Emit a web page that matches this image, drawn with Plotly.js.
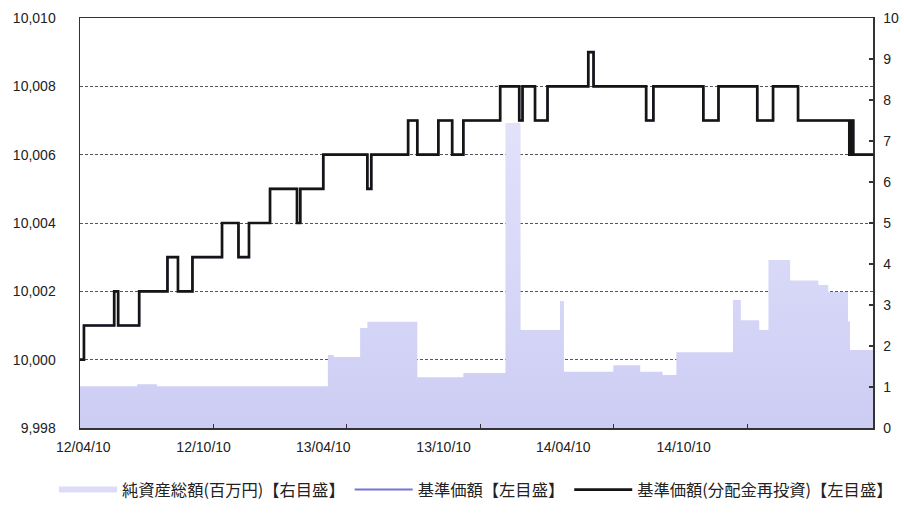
<!DOCTYPE html>
<html>
<head>
<meta charset="utf-8">
<script src="https://cdn.plot.ly/plotly-3.0.1.min.js"></script>
<style>html,body{margin:0;padding:0;background:#fff;}#chart{width:904px;height:513px;}</style>
</head>
<body>
<div id="chart"></div>
<script>
// 基準価額（分配金再投資）: step dates and values (left axis)
const navDates = ['2012-04-05','2012-04-11','2012-05-27','2012-06-02','2012-07-04','2012-08-16','2012-09-01','2012-09-23',
  '2012-11-07','2012-12-02','2012-12-18','2013-01-19','2013-03-01','2013-03-06','2013-04-10','2013-06-16','2013-06-22',
  '2013-08-17','2013-08-31','2013-10-02','2013-10-23','2013-11-09','2014-01-04','2014-02-02','2014-02-07','2014-02-26',
  '2014-03-17','2014-05-18','2014-05-26','2014-08-14','2014-08-25','2014-11-09','2014-12-02','2015-01-30','2015-02-23',
  '2015-04-02','2015-06-19','2015-06-21','2015-06-22','2015-06-24','2015-06-25','2015-07-25'];
const navValues = [10000,10001,10002,10001,10002,10003,10002,10003,
  10004,10003,10004,10005,10004,10005,10006,10005,10006,
  10007,10006,10007,10006,10007,10008,10007,10008,10007,
  10008,10009,10008,10007,10008,10007,10008,10007,10008,
  10007,10006,10007,10006,10007,10006,10006];
// 基準価額 (same as reinvested, no distributions)
const priceValues = navValues.slice();

// 純資産総額（百万円）: right axis
const assetDates = ['2012-04-05','2012-07-01','2012-07-31','2013-04-17','2013-04-26','2013-06-05','2013-06-16','2013-08-31',
  '2013-11-09','2014-01-12','2014-02-04','2014-04-05','2014-04-11','2014-06-25','2014-08-05','2014-09-08','2014-09-29',
  '2014-12-24','2015-01-05','2015-02-02','2015-02-16','2015-03-21','2015-05-03','2015-05-18','2015-06-17','2015-06-20','2015-07-25'];
const assetValues = [1.02,1.07,1.02,1.78,1.73,2.44,2.59,1.24,
  1.34,7.44,2.39,3.1,1.37,1.53,1.37,1.29,1.85,
  3.12,2.63,2.39,4.1,3.6,3.49,3.32,2.6,1.9,1.9];

const xTickDates = ['2012-04-10','2012-10-10','2013-04-10','2013-10-10','2014-04-10','2014-10-10'];
const xTickLabels = ['12/04/10','12/10/10','13/04/10','13/10/10','14/04/10','14/10/10'];
const xMarkDates = ['2012-10-25','2013-05-15','2013-12-05','2014-06-25','2015-01-15'];
const leftTicks = [9998,10000,10002,10004,10006,10008,10010];
const rightTicks = [0,1,2,3,4,5,6,7,8,9,10];

const names = ['純資産総額(百万円)【右目盛】','基準価額【左目盛】','基準価額(分配金再投資)【左目盛】'];
const areaColor = '#d6d6f7';

const traces = [
  {x: assetDates, y: assetValues, type:'scatter', mode:'lines', line:{shape:'hv', width:0, color:areaColor},
   fill:'tozeroy', fillcolor:areaColor,
   fillgradient:{type:'vertical', start:0, stop:7.5, colorscale:[[0,'#cdcdf4'],[1,'#e2e2fb']]},
   yaxis:'y', showlegend:false, hoverinfo:'skip'},
  {x:[null], y:[null], type:'scatter', mode:'lines', name:names[0], line:{color:'#dcdcf8', width:6}, yaxis:'y'},
  {x: navDates, y: priceValues, type:'scatter', mode:'lines', name:names[1], line:{shape:'hv', width:2, color:'#7474d6'}, yaxis:'y2'},
  {x: navDates, y: navValues, type:'scatter', mode:'lines', name:names[2], line:{shape:'hv', width:2.7, color:'#151515'}, yaxis:'y2'}
];

// plot box: x 80..873, y 18..428 inside a 904x513 page (margins kept at 0 except top)
const W = 904, H = 513, T = 18;
const xDomain = [80 / W, 873 / W];
const yDomain = [(H - 428) / (H - T), 1];

const tickFont = {family:'Liberation Sans, Arial, sans-serif', size:14, color:'#222'};
const layout = {
  width:W, height:H,
  margin:{l:0, r:0, t:T, b:0, pad:0},
  paper_bgcolor:'#fff', plot_bgcolor:'#fff',
  showlegend:true,
  xaxis:{type:'date', domain:xDomain, range:['2012-04-05','2015-07-25'], tickmode:'array', tickvals:xTickDates, ticktext:xTickLabels,
    ticks:'', showgrid:false, zeroline:false, showline:true, mirror:true, linecolor:'#333', linewidth:1.5,
    tickfont:tickFont, ticklabelstandoff:6, automargin:false,
    minor:{tickmode:'array', tickvals:xMarkDates, ticks:'inside', ticklen:4, tickwidth:1.5, tickcolor:'#333', showgrid:false}},
  yaxis:{domain:yDomain, range:[0,10], tickmode:'array', tickvals:rightTicks, side:'right', ticks:'inside', ticklen:4, tickwidth:1.5, tickcolor:'#333',
    showgrid:false, zeroline:false, showline:true, linecolor:'#333', linewidth:1.5, tickfont:tickFont, ticklabelstandoff:6, automargin:false},
  yaxis2:{domain:yDomain, range:[9998,10010], tickmode:'array', tickvals:leftTicks, tickformat:',d', overlaying:'y', side:'left',
    ticks:'', showgrid:true, gridcolor:'#555', gridwidth:1, griddash:'3px,2px', zeroline:false,
    showline:true, linecolor:'#333', linewidth:1.5, tickfont:tickFont, ticklabelstandoff:20, automargin:false},
  legend:{orientation:'h', x:54 / W, xanchor:'left', y:(H - 490) / (H - T), yanchor:'middle', itemwidth:58,
    font:{family:'Noto Sans CJK JP, sans-serif', size:16.3, color:'#222'}, bgcolor:'rgba(0,0,0,0)'}
};

Plotly.newPlot('chart', traces, layout, {displayModeBar:false, staticPlot:true});
</script>
</body>
</html>
